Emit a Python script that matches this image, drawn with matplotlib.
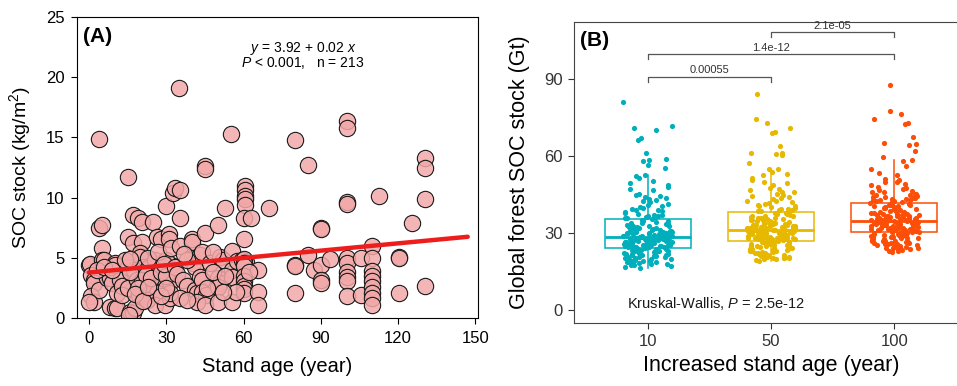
import numpy as np
import matplotlib
matplotlib.use("Agg")
import matplotlib.pyplot as plt

plt.rcParams['font.family'] = ['Liberation Sans', 'DejaVu Sans']
plt.rcParams['mathtext.fontset'] = 'custom'
plt.rcParams['mathtext.rm'] = 'Liberation Sans'
plt.rcParams['mathtext.it'] = 'Liberation Sans:italic'

# ---- panel A: site SOC stock vs stand age ----
stand_age = [
    0, 0.5, 1, 2, 2, 1, 2, 4, 4, 4, 5, 5, 5, 6, 7, 8, 9, 8, 10, 11, 10, 10, 11, 12, 13, 13, 0, 3, 6, 9,
    15, 15, 15, 15, 16, 17, 18, 15.5, 17, 19, 20.5, 25, 17, 20.5, 26.5, 28, 20, 20, 17.5, 21, 23, 27,
    29.5, 32, 25.5, 30, 23, 18.5, 20.5, 25.5, 27, 28, 31.5, 22.5, 20.5, 19.5, 24.5, 26.5, 22.5, 25.5,
    29.5, 31.5, 30, 32.5, 31, 31, 31.5, 16, 22, 24, 28, 30, 19, 27, 29, 14, 16, 18, 21, 23, 28, 30, 32,
    35, 33.5, 35.5, 35.5, 35.5, 33.5, 34, 36.5, 38, 35.5, 40, 40, 40, 40.3, 41, 41, 42, 43, 44, 44,
    45.5, 42, 45, 43, 44, 45, 45, 45, 47, 50, 50, 51, 50, 50, 51, 52, 53, 55, 55.5, 55.5, 55.5, 55.5,
    57.5, 59.5, 61, 60.5, 60.5, 60.5, 60.5, 60.5, 60, 63, 60, 60, 60, 60, 60, 60, 60, 60, 60, 65.5,
    65.5, 65.5, 70, 38, 37, 48, 46, 53, 57, 62, 48, 38, 52,
    80, 80, 80, 80, 85, 85, 87.5, 90, 90, 90, 90, 90, 93.5, 100, 100, 100, 100, 100, 100, 100, 100,
    100, 100, 105.5, 105.5, 110, 110, 110, 110, 110, 110, 110, 110, 110, 112.5, 120.5, 120.5, 120.5,
    125.5, 130.5, 130.5, 130.5, 130.5,
]
soc_stock = [
    4.4, 4.5, 3.6, 3.2, 2.9, 1.8, 1.3, 2.3, 14.9, 7.5, 7.7, 5.8, 4.8, 4.8, 3.3, 3.3, 2.9, 0.9, 0.8, 0.8,
    4.6, 4.4, 2.1, 3.2, 2.7, 1.9, 1.3, 4.0, 4.2, 4.0,
    11.7, 6.7, 4.2, 2.5, 0.5, 0.4, 0.8, 0.25, 8.55, 8.3, 8.0, 8.0, 6.2, 6.3, 6.7, 6.6, 5.4, 5.1, 4.0,
    4.2, 4.15, 4.4, 4.2, 4.4, 4.8, 4.8, 5.0, 3.2, 3.2, 2.9, 2.6, 2.7, 3.0, 1.9, 1.75, 1.9, 2.3, 2.1,
    1.5, 1.1, 1.1, 1.7, 9.3, 10.4, 7.0, 6.6, 2.1, 3.8, 3.6, 3.3, 3.8, 3.5, 2.5, 5.5, 4.5, 4.8, 4.9,
    2.0, 1.4, 2.6, 1.8, 2.5, 5.8,
    19.1, 10.8, 10.6, 8.3, 6.0, 4.2, 3.7, 3.2, 2.7, 1.7, 6.6, 6.3, 5.0, 4.6, 4.2, 2.3, 2.1, 3.4, 3.2,
    2.2, 1.9, 1.3, 1.1, 5.2, 5.5, 12.6, 12.4, 7.1, 4.6, 7.7, 3.3, 2.9, 2.6, 1.3, 5.1, 4.8, 9.1, 15.3,
    5.6, 4.0, 3.4, 1.3, 4.7, 4.8, 4.65, 11.0, 10.6, 10.1, 9.9, 9.4, 8.3, 8.3, 6.6, 4.9, 4.6, 4.3, 3.5,
    3.1, 2.7, 2.4, 2.1, 4.0, 2.2, 1.1, 9.1, 4.8, 5.3, 3.8, 2.5, 3.5, 2.2, 3.8, 5.5, 1.5, 2.2,
    14.8, 4.4, 4.3, 2.1, 12.7, 5.2, 4.0, 7.5, 7.4, 4.4, 3.2, 2.9, 4.9, 16.4, 15.8, 9.6, 9.5, 5.0, 4.6,
    3.8, 3.4, 3.1, 1.8, 5.0, 1.9, 6.0, 5.0, 3.9, 3.5, 3.1, 2.6, 2.1, 1.7, 1.1, 10.1, 5.1, 5.0, 2.1,
    7.9, 13.3, 12.5, 9.9, 2.7,
]
fit_intercept = 3.78
fit_slope = 0.0202
fit_range = [0, 147]

# ---- panel B: global forest SOC stock by increased stand age ----
age_groups = ['10', '50', '100']
group_colors = ['#00AFBB', '#E7B800', '#FC4E07']

soc_10 = [
    81.2, 71.8, 70.9, 70.1, 67.2, 66.4, 61.1, 58.7, 58.3, 57.9, 56.4, 55.3, 52.8, 52.1, 51.6, 50.2,
    49.4, 48.8, 47.9, 47.1, 46.6, 45.2, 44.7, 44.1, 43.6, 43.2, 42.5, 42.0, 41.3, 40.8, 40.2, 39.9,
    39.1, 38.8, 38.2, 37.7, 37.4, 37.0, 36.6, 36.3, 36.1, 35.7, 44.3, 42.9, 40.6, 39.4, 38.5, 37.1,
    36.8, 35.9,
    35.3, 35.0, 34.6, 34.4, 34.1, 33.7, 33.5, 33.2, 32.9, 32.8, 32.4, 32.2, 31.9, 31.7, 31.5, 31.3,
    31.1, 30.8, 30.7, 30.5, 30.3, 30.1, 30.0, 29.8, 29.7, 29.5, 29.4, 29.3, 29.1, 29.0, 28.9, 28.8,
    28.7, 28.6, 32.6, 31.0, 30.4, 29.9, 29.2, 28.6, 33.9, 31.6, 30.2, 29.6, 28.9, 34.8, 32.1, 30.9,
    29.9, 29.0,
    28.4, 28.2, 28.1, 27.9, 27.8, 27.7, 27.5, 27.4, 27.3, 27.1, 27.0, 26.8, 26.7, 26.6, 26.4, 26.3,
    26.1, 26.0, 25.8, 25.7, 25.6, 25.4, 25.3, 25.1, 25.0, 24.9, 24.7, 24.6, 24.4, 24.3, 28.3, 27.6,
    27.2, 26.9, 26.5, 26.2, 25.9, 25.5, 25.2, 24.8, 28.0, 27.0, 26.4, 25.7, 24.5, 27.8, 26.7, 25.9,
    25.1, 24.4,
    24.1, 23.9, 23.6, 23.4, 23.1, 22.8, 22.6, 22.3, 22.0, 21.8, 21.5, 21.2, 21.0, 20.7, 20.5, 20.2,
    19.9, 19.6, 19.3, 19.0, 18.7, 18.4, 18.0, 17.6, 17.2, 16.7, 16.4, 23.8, 23.2, 22.5, 21.9, 21.3,
    20.8, 20.1, 19.5, 18.9, 18.2, 17.4, 23.5, 22.9, 22.1, 21.4, 20.4, 19.8, 18.6, 17.9, 23.0, 21.7,
    20.9, 19.2,
]
soc_50 = [
    84.0, 74.3, 72.7, 70.8, 69.3, 68.9, 64.0, 61.3, 61.0, 60.8, 60.4, 57.2, 55.0, 54.8, 53.6, 53.0,
    52.6, 51.5, 50.5, 50.0, 49.6, 48.9, 47.5, 47.0, 46.6, 46.0, 45.4, 45.0, 44.3, 43.8, 43.2, 42.6,
    42.0, 41.7, 41.1, 40.6, 40.2, 39.9, 39.5, 39.0, 38.7, 38.4, 45.8, 44.0, 42.3, 41.4, 40.4, 39.2,
    38.9, 38.5,
    38.0, 37.7, 37.4, 37.1, 36.8, 36.5, 36.2, 35.9, 35.6, 35.3, 35.0, 34.8, 34.5, 34.3, 34.0, 33.8,
    33.6, 33.4, 33.2, 33.0, 32.8, 32.6, 32.4, 32.2, 32.0, 31.9, 31.7, 31.6, 31.4, 31.3, 36.0, 35.2,
    34.6, 33.9, 33.3, 32.7, 32.1, 31.5, 37.5, 35.8, 34.1, 33.1, 32.3, 31.8, 36.6, 34.9, 33.5, 32.5,
    31.9, 31.3,
    31.1, 31.0, 30.9, 30.7, 30.6, 30.4, 30.3, 30.1, 30.0, 29.9, 29.7, 29.6, 29.4, 29.3, 29.1, 29.0,
    28.9, 28.7, 28.6, 28.4, 28.3, 28.1, 28.0, 27.9, 27.7, 27.6, 27.4, 27.3, 27.2, 27.1, 30.8, 30.2,
    29.8, 29.2, 28.8, 28.2, 27.8, 27.5, 30.5, 29.5, 28.5, 27.7, 31.0, 30.0, 29.0, 28.0, 30.6, 29.4,
    28.4, 27.3,
    26.9, 26.6, 26.3, 26.0, 25.7, 25.4, 25.1, 24.8, 24.5, 24.2, 23.9, 23.6, 23.3, 23.0, 22.7, 22.4,
    22.1, 21.8, 21.5, 21.2, 20.9, 20.6, 20.3, 20.0, 19.6, 19.2, 26.5, 25.9, 25.2, 24.6, 23.8, 23.1,
    22.5, 21.9, 21.3, 20.7, 20.2, 26.2, 25.5, 24.3, 23.4, 22.2, 21.0, 20.4, 26.7, 24.9, 22.9, 21.6,
    20.1, 19.8,
]
soc_100 = [
    87.5, 77.6, 76.2, 74.3, 72.7, 72.4, 67.5, 65.0, 64.6, 64.2, 61.8, 59.5, 58.4, 58.0, 56.0, 55.0,
    52.8, 51.0, 50.0, 49.7, 48.6, 47.4, 47.0, 46.4, 45.8, 45.3, 44.9, 44.5, 44.0, 43.6, 43.2, 42.9,
    42.5, 42.2, 42.0, 41.9, 49.2, 46.8, 45.1, 43.8, 43.0, 42.3, 48.1, 44.2, 42.7, 50.5, 53.5, 46.1,
    44.7, 43.4,
    41.6, 41.3, 41.0, 40.7, 40.4, 40.1, 39.8, 39.5, 39.2, 38.9, 38.6, 38.3, 38.0, 37.7, 37.4, 37.2,
    37.0, 36.8, 36.6, 36.4, 36.2, 36.0, 35.8, 35.6, 35.5, 35.3, 35.2, 35.1, 35.0, 34.9, 40.9, 39.6,
    38.5, 37.6, 36.7, 35.9, 35.4, 39.0, 37.9, 36.5, 35.7, 35.0, 40.2, 38.1, 36.9, 36.1, 35.2, 41.1,
    37.3, 34.9,
    34.7, 34.6, 34.4, 34.3, 34.1, 34.0, 33.8, 33.7, 33.5, 33.4, 33.2, 33.1, 32.9, 32.8, 32.6, 32.5,
    32.3, 32.2, 32.0, 31.9, 31.7, 31.6, 31.4, 31.3, 31.1, 31.0, 30.8, 30.7, 30.5, 30.4, 34.5, 33.9,
    33.3, 32.7, 32.1, 31.5, 30.9, 34.2, 33.6, 32.4, 31.8, 31.2, 30.6, 34.8, 33.0, 31.9, 30.5, 34.4,
    32.6, 31.0,
    30.2, 30.0, 29.8, 29.5, 29.3, 29.0, 28.8, 28.5, 28.3, 28.0, 27.7, 27.4, 27.1, 26.8, 26.5, 26.2,
    25.9, 25.6, 25.3, 25.0, 24.7, 24.4, 24.1, 23.7, 23.2, 22.6, 29.9, 29.1, 28.4, 27.6, 26.9, 26.0,
    25.1, 24.2, 23.5, 29.6, 28.7, 27.9, 26.6, 25.5, 24.5, 23.0, 30.1, 28.1, 27.0, 25.8, 24.0, 29.4,
    26.3, 23.9,
]

# box statistics as drawn in the figure
box_q1 = [24.2, 27.0, 30.3]
box_med = [28.5, 31.2, 34.8]
box_q3 = [35.5, 38.2, 41.8]
box_low = [16.5, 19.2, 22.6]
box_high = [52.5, 54.5, 58.5]

# pairwise comparisons
pair_groups = [(1, 2), (1, 3), (2, 3)]
pair_labels = ['0.00055', '1.4e-12', '2.1e-05']
pair_heights = [90.9, 99.6, 108.2]
kruskal_label = 'Kruskal-Wallis, $\\it{P}$ = 2.5e-12'


fig = plt.figure(figsize=(9.57, 3.86), dpi=100)

# ================= (A) =================
ax1 = fig.add_axes([0.0805, 0.176, 0.419, 0.780])
ax1.scatter(stand_age, soc_stock, s=138, facecolor=(0.95, 0.66, 0.66, 0.85),
            edgecolor='#1a1a1a', linewidth=0.8, zorder=2)
fx = np.array(fit_range, dtype=float)
ax1.plot(fx, fit_intercept + fit_slope * fx, color='#EE1D1D', lw=3.2,
         solid_capstyle='round', zorder=3)
ax1.set_xlim(-4.6, 151)
ax1.set_ylim(0, 25)
ax1.set_xticks(np.arange(0, 151, 30))
ax1.set_yticks(np.arange(0, 26, 5))
ax1.tick_params(direction='out', length=4, width=0.8, labelsize=12, pad=5)
for sp in ax1.spines.values():
    sp.set_linewidth(0.8)
ax1.set_xlabel('Stand age (year)', fontsize=14.5, labelpad=8)
ax1.set_ylabel('SOC stock (kg/m$^2$)', fontsize=14, labelpad=9)
ax1.text(0.015, 0.935, '(A)', transform=ax1.transAxes, fontsize=15,
         fontweight='bold', ha='left', va='center')
ax1.text(83, 22.4, '$\\it{y}$ = 3.92 + 0.02 $\\it{x}$', fontsize=10,
         ha='center', va='center')
ax1.text(83, 21.15, '$\\it{P}$ < 0.001,   n = 213', fontsize=10,
         ha='center', va='center')

# ================= (B) =================
ax2 = fig.add_axes([0.5998, 0.163, 0.4117, 0.780])
groups = [soc_10, soc_50, soc_100]
stats = []
for i in range(3):
    stats.append(dict(med=box_med[i], q1=box_q1[i], q3=box_q3[i],
                      whislo=box_low[i], whishi=box_high[i], label=age_groups[i]))
bp = ax2.bxp(stats, positions=[1, 2, 3], widths=0.7, showfliers=False,
             showcaps=False, patch_artist=True, zorder=1)
for i, c in enumerate(group_colors):
    bp['boxes'][i].set(facecolor='white', edgecolor=c, linewidth=1.1)
    bp['medians'][i].set(color=c, linewidth=2.0)
    bp['whiskers'][2 * i].set(color=c, linewidth=1.1)
    bp['whiskers'][2 * i + 1].set(color=c, linewidth=1.1)

golden = 0.6180339887
for i, vals in enumerate(groups):
    k = np.arange(len(vals))
    jit = ((k * k * golden + k * 0.37 + i * 0.21) % 1.0 - 0.5) * 0.4
    ax2.scatter(i + 1 + jit, vals, s=14, color=group_colors[i],
                linewidths=0, zorder=3)

tick_h = 1.9
for (a, b), lab, h in zip(pair_groups, pair_labels, pair_heights):
    ax2.plot([a, a, b, b], [h - tick_h, h, h, h - tick_h], color='#555555',
             lw=0.9, zorder=4)
    ax2.text((a + b) / 2, h + 0.6, lab, fontsize=8, color='#333333',
             ha='center', va='bottom')

ax2.text(1.55, 2.7, kruskal_label, fontsize=10.5, ha='center', va='center',
         color='#1a1a1a')
ax2.text(0.015, 0.94, '(B)', transform=ax2.transAxes, fontsize=15,
         fontweight='bold', ha='left', va='center')

ax2.set_xlim(0.4, 3.6)
ax2.set_ylim(-5.06, 112.2)
ax2.set_yticks([0, 30, 60, 90])
ax2.set_xticks([1, 2, 3])
ax2.set_xticklabels(age_groups)
ax2.tick_params(direction='out', length=4, width=0.8, labelsize=12,
                colors='#333333', labelcolor='#333333', pad=4)
for sp in ax2.spines.values():
    sp.set_linewidth(0.8)
    sp.set_color('#444444')
ax2.set_xlabel('Increased stand age (year)', fontsize=15.5, labelpad=4)
ax2.set_ylabel('Global forest SOC stock (Gt)', fontsize=15.5, labelpad=10)

fig.savefig('out.png', dpi=100)
